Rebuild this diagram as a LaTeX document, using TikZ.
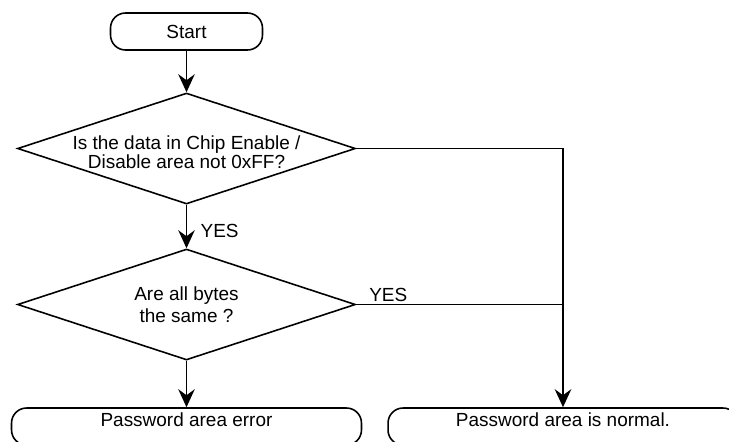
\documentclass[tikz,border=0pt]{standalone}
\usepackage{fontspec}
\setmainfont{Liberation Sans}
\usetikzlibrary{shapes.geometric,arrows.meta}
\begin{document}
\begin{tikzpicture}[x=0.02cm, y=-0.02cm, line width=0.9pt,
  >={Stealth[length=0.36cm, width=0.33cm, inset=0.12cm]},
  font=\fontsize{10.8}{11}\selectfont,
  term/.style={draw, rectangle, rounded corners=0.3cm, minimum height=0.74cm, inner sep=0pt},
  decision/.style={draw, diamond, minimum width=6.76cm, minimum height=2.22cm, inner sep=0pt},
  qtext/.style={align=center, inner sep=0pt}]
  \useasboundingbox (0,0) rectangle (729,441);
  \node[term, minimum width=3.04cm] (start) at (186.5,31.5) {Start};
  \node[decision, label={[qtext, yshift=-0.07cm]center:{Is the data in Chip Enable /\\Disable area not 0xFF?}}] (chk) at (186.5,148.5) {};
  \node[decision, label={[qtext, font=\fontsize{10.8}{12.5}\selectfont]center:{Are all bytes\\the same ?}}] (same) at (186.5,304.5) {};
  \node[term, minimum width=7cm, text height=0.2cm, text depth=0.2cm] (err) at (186.5,426.5) {Password area error};
  \node[term, minimum width=7cm, text height=0.2cm, text depth=0.2cm] (ok) at (563,426.5) {Password area is normal.};
  \draw[->] (start) -- (chk);
  \draw[->] (chk) -- node[pos=0.6, right, xshift=0.15cm] {YES} (same);
  \draw[->] (same) -- (err);
  \draw[->] (chk.east) -| (ok.north);
  \draw (same.east) -- node[pos=0.155, above, inner sep=1pt] {YES} (same.east -| ok.north);
\end{tikzpicture}
\end{document}
